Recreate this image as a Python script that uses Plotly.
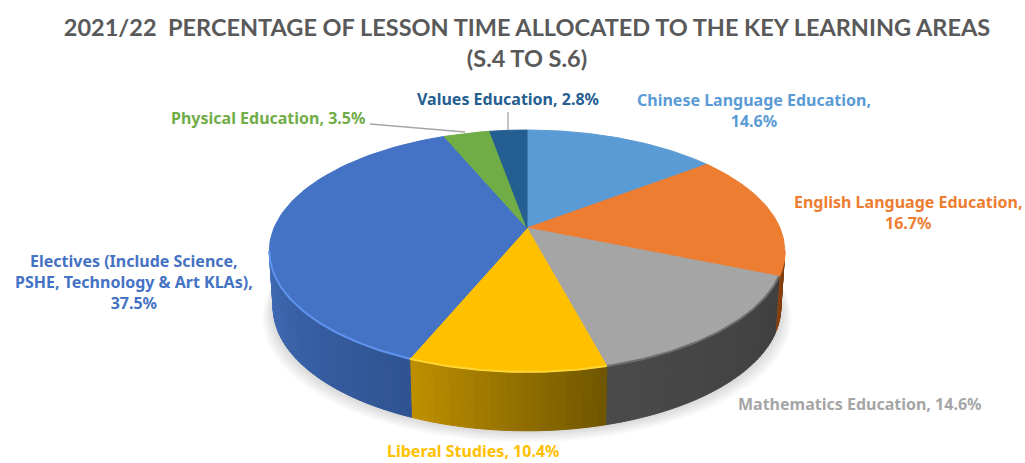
import math
import plotly.graph_objects as go

# ---- data ----
categories = ["Chinese Language Education", "English Language Education", "Mathematics Education",
              "Liberal Studies", "Electives (Include Science, PSHE, Technology & Art KLAs)",
              "Physical Education", "Values Education"]
values = [14.6, 16.7, 14.6, 10.4, 37.5, 3.5, 2.8]
label_texts = ["Chinese Language Education,<br>14.6%", "English Language Education,<br>16.7%",
               "Mathematics Education, 14.6%", "Liberal Studies, 10.4%",
               "Electives (Include Science,<br>PSHE, Technology & Art KLAs),<br>37.5%",
               "Physical Education, 3.5%", "Values Education, 2.8%"]
title_text = "2021/22  PERCENTAGE OF LESSON TIME ALLOCATED TO THE KEY LEARNING AREAS<br>(S.4 TO S.6)"

# ---- styling ----
top_colors = ["#5B9BD5", "#ED7D31", "#A5A5A5", "#FFC000", "#4472C4", "#70AD47", "#255E91"]
label_colors = ["#5B9BD5", "#ED7D31", "#A5A5A5", "#FFC000", "#4472C4", "#70AD47", "#255E91"]
wall_from = ["#3A6EA0", "#8A4210", "#4A4A4A", "#BF9000", "#3F6BB5", "#446E2C", "#163A5A"]
wall_to = ["#3A6EA0", "#7A3A0C", "#3F3F3F", "#6E5500", "#2F5392", "#446E2C", "#163A5A"]
rim_colors = ["#5B9BD5", "#ED7D31", "#6E6E6E", "#FFD633", "#5F93EE", "#70AD47", "#255E91"]
label_pos = [(754, 110), (908, 212), (859, 404), (473, 451), (134, 282), (268, 118), (508, 99)]
leaders = [((370, 124), (465, 132)), ((508, 112), (508, 130))]
FONT = "Noto Sans"

# ---- perspective projection of the disc ----
CX, CY, RX, RY, P = 527, 228, 253, 116.6, 0.19
BOT_CY, BOT_SX, BOT_SY = 284, 0.985, 1.02


def top_pt(t):
    u, v = math.sin(t), math.cos(t)
    w = 1 + P * v
    return CX + RX * u / w, CY - RY * v / w


def bot_pt(t):
    u, v = math.sin(t), math.cos(t)
    w = 1 + P * v
    return CX + RX * BOT_SX * u / w, BOT_CY - RY * BOT_SY * v / w


def mix(a, b, f):
    ca = [int(a[i:i + 2], 16) for i in (1, 3, 5)]
    cb = [int(b[i:i + 2], 16) for i in (1, 3, 5)]
    return "#" + "".join(f"{round(x + (y - x) * f):02x}" for x, y in zip(ca, cb))


def arc(a, b, fn, n=60):
    return [fn(a + (b - a) * i / n) for i in range(n + 1)]


def poly(pts, color, line=None):
    xs = [p[0] for p in pts] + [pts[0][0]]
    ys = [p[1] for p in pts] + [pts[0][1]]
    return go.Scatter(x=xs, y=ys, mode="lines", fill="toself", fillcolor=color,
                      line=dict(color=line or "rgba(0,0,0,0)", width=1 if line else 0),
                      hoverinfo="skip", showlegend=False)


total = sum(values)
edges = [0.0]
for val in values:
    edges.append(edges[-1] + val / total * 2 * math.pi)

fig = go.Figure()

# soft shadow beneath the disc
for k in range(7, 0, -1):
    s = 1 + k * 0.006
    pts = [(CX + (x - CX) * s, y + k * 1.5 + 1) for x, y in arc(math.radians(60), math.radians(300), bot_pt, 120)]
    fig.add_trace(poly(pts, "rgba(0,0,0,0.018)"))

# side wall, only where it faces the viewer
WALL_A, WALL_B = math.radians(101), math.radians(259)
for i in range(len(values)):
    a, b = max(edges[i], WALL_A), min(edges[i + 1], WALL_B)
    if a >= b:
        continue
    steps = max(2, int((b - a) / math.radians(1.5)))
    for j in range(steps):
        t0 = a + (b - a) * j / steps
        t1 = a + (b - a) * (j + 1) / steps
        # gradient runs left-to-right on screen, i.e. against the clockwise angle
        f = (j + 0.5) / steps
        col = mix(wall_to[i], wall_from[i], f)
        pts = arc(t0, t1, top_pt, 3) + arc(t1, t0, bot_pt, 3)
        fig.add_trace(poly(pts, col, col))

# top face wedges
for i in range(len(values)):
    pts = [(CX, CY)] + arc(edges[i], edges[i + 1], top_pt, 80)
    fig.add_trace(poly(pts, top_colors[i], top_colors[i]))

# bevel highlight along the front rim
for i in range(len(values)):
    a, b = max(edges[i], WALL_A), min(edges[i + 1], WALL_B)
    if a >= b:
        continue
    pts = arc(a, b, top_pt, 50)
    fig.add_trace(go.Scatter(x=[p[0] for p in pts], y=[p[1] for p in pts], mode="lines",
                             line=dict(color=rim_colors[i], width=2),
                             hoverinfo="skip", showlegend=False))

# leader lines
for (x0, y0), (x1, y1) in leaders:
    fig.add_trace(go.Scatter(x=[x0, x1], y=[y0, y1], mode="lines",
                             line=dict(color="#A6A6A6", width=1.3),
                             hoverinfo="skip", showlegend=False))

annotations = [dict(x=x, y=y, xref="x", yref="y", text=txt, showarrow=False, align="center",
                    font=dict(family=FONT, size=16, color=col, weight="bold"))
               for (x, y), txt, col in zip(label_pos, label_texts, label_colors)]

fig.update_layout(
    width=1025, height=463, autosize=False,
    margin=dict(l=0, r=0, t=0, b=0),
    paper_bgcolor="white", plot_bgcolor="white", showlegend=False,
    title=dict(text=title_text, x=527 / 1025, xanchor="center", y=0.922, yanchor="top",
               font=dict(family="Lato", size=23.5, color="#595959", weight="bold")),
    xaxis=dict(range=[0, 1025], visible=False, fixedrange=True),
    yaxis=dict(range=[463, 0], visible=False, fixedrange=True),
    annotations=annotations,
)
fig.write_html("out.html", config={"displayModeBar": False},
               post_script="document.body.style.margin='0';")
